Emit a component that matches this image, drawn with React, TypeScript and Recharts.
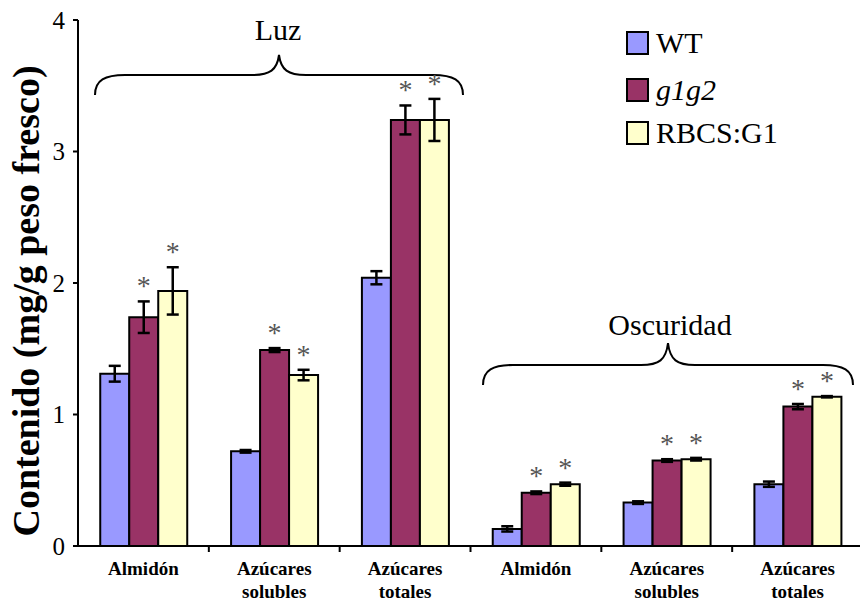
import { BarChart, Bar, XAxis, YAxis, ErrorBar, LabelList, Customized } from "recharts";

// Contenido de almidón y azúcares (mg/g peso fresco), luz y oscuridad
const categories = [
  "Almidón",
  "Azúcares solubles",
  "Azúcares totales",
  "Almidón",
  "Azúcares solubles",
  "Azúcares totales",
];
const wtValues = [1.31, 0.72, 2.04, 0.13, 0.33, 0.47];
const wtErrors = [0.06, 0.01, 0.05, 0.02, 0.01, 0.02];
const g1g2Values = [1.74, 1.49, 3.24, 0.405, 0.65, 1.06];
const g1g2Errors = [0.12, 0.015, 0.11, 0.01, 0.01, 0.02];
const rbcsValues = [1.94, 1.3, 3.24, 0.47, 0.66, 1.135];
const rbcsErrors = [0.18, 0.04, 0.16, 0.012, 0.01, 0.005];
const yTicks = [0, 1, 2, 3, 4];

const data = categories.map((name, i) => ({
  id: i,
  name,
  wt: wtValues[i],
  wtErr: wtErrors[i],
  g1g2: g1g2Values[i],
  g1g2Err: g1g2Errors[i],
  rbcs: rbcsValues[i],
  rbcsErr: rbcsErrors[i],
}));

const SERIF = '"Liberation Serif", "Times New Roman", serif';
const CHART_W = 863;
const CHART_H = 601;
const PLOT_LEFT = 78;
const PLOT_TOP = 20;
const X_AXIS_H = 55;
const PLOT_BOTTOM = CHART_H - X_AXIS_H;
const BAND = (CHART_W - PLOT_LEFT) / categories.length;

const WT_COLOR = "#9999ff";
const G1G2_COLOR = "#993366";
const RBCS_COLOR = "#ffffcc";

function CategoryTick(props: any) {
  const { x, payload, index } = props;
  const lines = String(categories[index] ?? payload.value).split(" ");
  return (
    <g>
      {index < categories.length - 1 && (
        <line
          x1={x + BAND / 2}
          x2={x + BAND / 2}
          y1={PLOT_BOTTOM}
          y2={PLOT_BOTTOM + 6}
          stroke="#000"
          strokeWidth={2}
        />
      )}
      <text x={x} y={575} textAnchor="middle" fontFamily={SERIF} fontWeight="bold" fontSize={19} fill="#000">
        {lines.map((l, k) => (
          <tspan key={k} x={x} dy={k === 0 ? 0 : 23}>
            {l}
          </tspan>
        ))}
      </text>
    </g>
  );
}

// significance mark sitting above the error bar
function starLabel(errs: number[]) {
  return (props: any) => {
    const { x, y, width, height, value, index } = props;
    const errPx = value ? (errs[index] * height) / value : 0;
    const cy = y - errPx - 19;
    return (
      <text x={x + width / 2} y={cy + 13} textAnchor="middle" fontSize={28} fill="#555" fontFamily={SERIF}>
        *
      </text>
    );
  };
}

function Annotations() {
  const legend = [
    { label: "WT", color: WT_COLOR, y: 32, italic: false },
    { label: "g1g2", color: G1G2_COLOR, y: 79, italic: true },
    { label: "RBCS:G1", color: RBCS_COLOR, y: 122, italic: false },
  ];
  return (
    <g>
      {/* llaves de agrupación */}
      <path
        d="M95,95 C95,80 105,75 125,75 L252,75 C270,75 277,70 279,55 C281,70 288,75 306,75 L433,75 C453,75 463,80 463,95"
        fill="none"
        stroke="#000"
        strokeWidth={2}
      />
      <text x={278} y={40} textAnchor="middle" fontFamily={SERIF} fontSize={30} fill="#000">
        Luz
      </text>
      <path
        d="M483,385 C483,370 493,365 513,365 L641,365 C659,365 666,360 668,343 C670,360 677,365 695,365 L823,365 C843,365 853,370 853,385"
        fill="none"
        stroke="#000"
        strokeWidth={2}
      />
      <text x={670} y={335} textAnchor="middle" fontFamily={SERIF} fontSize={30} fill="#000">
        Oscuridad
      </text>

      {/* leyenda */}
      {legend.map((it) => (
        <g key={it.label}>
          <rect x={627} y={it.y} width={21} height={22} fill={it.color} stroke="#000" strokeWidth={2} />
          <text
            x={656}
            y={it.y + 21}
            fontFamily={SERIF}
            fontSize={30}
            fontStyle={it.italic ? "italic" : "normal"}
            fill="#000"
          >
            {it.label}
          </text>
        </g>
      ))}

      {/* título del eje Y */}
      <text
        x={39}
        y={301}
        transform="rotate(-90, 39, 301)"
        textAnchor="middle"
        fontFamily={SERIF}
        fontWeight="bold"
        fontSize={38}
        fill="#000"
      >
        Contenido (mg/g peso fresco)
      </text>
    </g>
  );
}

export default function App() {
  return (
    <div
      style={{
        position: "absolute",
        left: 0,
        top: 0,
        width: 860,
        height: 601,
        overflow: "hidden",
        background: "#fff",
      }}
    >
      <BarChart
        width={CHART_W}
        height={CHART_H}
        data={data}
        margin={{ top: PLOT_TOP, right: 0, bottom: 0, left: 0 }}
        barCategoryGap="17%"
        barGap={0}
      >
        <XAxis
          dataKey="name"
          height={X_AXIS_H}
          axisLine={{ stroke: "#000", strokeWidth: 2 }}
          tickLine={false}
          interval={0}
          tick={<CategoryTick />}
        />
        <YAxis
          width={PLOT_LEFT}
          domain={[0, 4]}
          ticks={yTicks}
          axisLine={{ stroke: "#000", strokeWidth: 2 }}
          tickLine={{ stroke: "#000", strokeWidth: 2 }}
          tickSize={5}
          tickMargin={8}
          tick={{ fill: "#000", fontSize: 25, fontFamily: SERIF }}
        />
        <Bar dataKey="wt" fill={WT_COLOR} stroke="#000" strokeWidth={2} isAnimationActive={false}>
          <ErrorBar dataKey="wtErr" direction="y" width={6} stroke="#000" strokeWidth={2.5} />
        </Bar>
        <Bar dataKey="g1g2" fill={G1G2_COLOR} stroke="#000" strokeWidth={2} isAnimationActive={false}>
          <ErrorBar dataKey="g1g2Err" direction="y" width={6} stroke="#000" strokeWidth={2.5} />
          <LabelList dataKey="g1g2" content={starLabel(g1g2Errors)} />
        </Bar>
        <Bar dataKey="rbcs" fill={RBCS_COLOR} stroke="#000" strokeWidth={2} isAnimationActive={false}>
          <ErrorBar dataKey="rbcsErr" direction="y" width={6} stroke="#000" strokeWidth={2.5} />
          <LabelList dataKey="rbcs" content={starLabel(rbcsErrors)} />
        </Bar>
        <Customized component={<Annotations />} />
      </BarChart>
    </div>
  );
}
